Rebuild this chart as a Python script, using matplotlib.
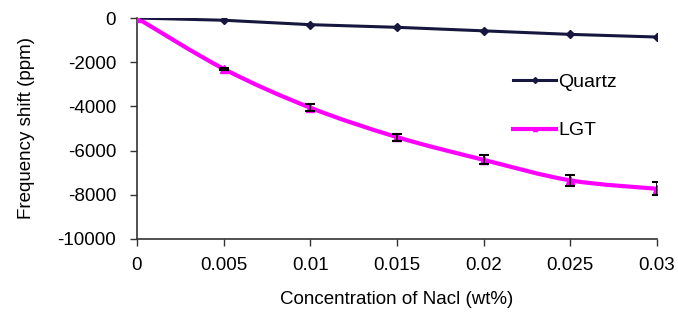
import numpy as np
import matplotlib.pyplot as plt
from matplotlib.path import Path
from matplotlib.patches import PathPatch
from matplotlib.lines import Line2D

plt.rcParams['font.family'] = ['Liberation Sans', 'DejaVu Sans']
plt.rcParams['axes.unicode_minus'] = False

conc = [0, 0.005, 0.01, 0.015, 0.02, 0.025, 0.03]
quartz = [0, -100, -300, -420, -580, -740, -860]
lgt = [0, -2300, -4060, -5390, -6420, -7350, -7730]
lgt_err = [0, 60, 150, 160, 200, 250, 300]

navy = '#16163f'
pink = '#ff00ff'


def smooth_path(x, y, t=1/6):
    # catmull-rom style bezier through the points (like excel's smoothed line)
    x, y = np.asarray(x, float), np.asarray(y, float)
    verts = [(x[0], y[0])]
    codes = [Path.MOVETO]
    n = len(x)
    for i in range(n - 1):
        i0, i3 = max(i - 1, 0), min(i + 2, n - 1)
        c1 = (x[i] + (x[i + 1] - x[i0]) * t, y[i] + (y[i + 1] - y[i0]) * t)
        c2 = (x[i + 1] - (x[i3] - x[i]) * t, y[i + 1] - (y[i3] - y[i]) * t)
        verts += [c1, c2, (x[i + 1], y[i + 1])]
        codes += [Path.CURVE4] * 3
    return Path(verts, codes)


fig = plt.figure(figsize=(6.78, 3.22), dpi=100)
ax = fig.add_axes([0.202, 0.258, 0.767, 0.686])

ax.plot(conc, quartz, color=navy, lw=2.2, marker='D', ms=4, zorder=3)
ax.add_patch(PathPatch(smooth_path(conc, lgt), fc='none', ec=pink, lw=3, zorder=2))
ax.plot(conc, lgt, ls='none', marker='^', ms=5.5, color=pink, zorder=3)
ax.errorbar(conc[1:], lgt[1:], yerr=lgt_err[1:], fmt='none', ecolor='black',
            elinewidth=1.2, capsize=3.5, capthick=1.5, zorder=4)

ax.set_xlim(0, 0.03)
ax.set_ylim(-10000, 0)
ax.set_xticks(conc)
ax.set_xticklabels(['0', '0.005', '0.01', '0.015', '0.02', '0.025', '0.03'])
ax.set_yticks(range(-10000, 1, 2000))
ax.tick_params(labelsize=13.5, direction='out', length=5, width=1, color='#333333')
ax.tick_params(axis='x', pad=8)
ax.tick_params(axis='y', pad=10)
for s in ['top', 'right']:
    ax.spines[s].set_visible(False)
for s in ['left', 'bottom']:
    ax.spines[s].set_color('#333333')
    ax.spines[s].set_linewidth(1.2)

ax.set_xlabel('Concentration of Nacl (wt%)', fontsize=13.5, labelpad=12)
ax.set_ylabel('Frequency shift (ppm)', fontsize=13.5, labelpad=16)

handles = [Line2D([], [], color=navy, lw=2.2, marker='D', ms=3),
           Line2D([], [], color=pink, lw=3, marker='^', ms=3)]
ax.legend(handles, ['Quartz', 'LGT'], loc='upper left', bbox_to_anchor=(0.69, 0.83),
          frameon=False, fontsize=14, handlelength=2.2, handletextpad=0.1,
          labelspacing=1.6)

fig.savefig('out.png', dpi=100)
